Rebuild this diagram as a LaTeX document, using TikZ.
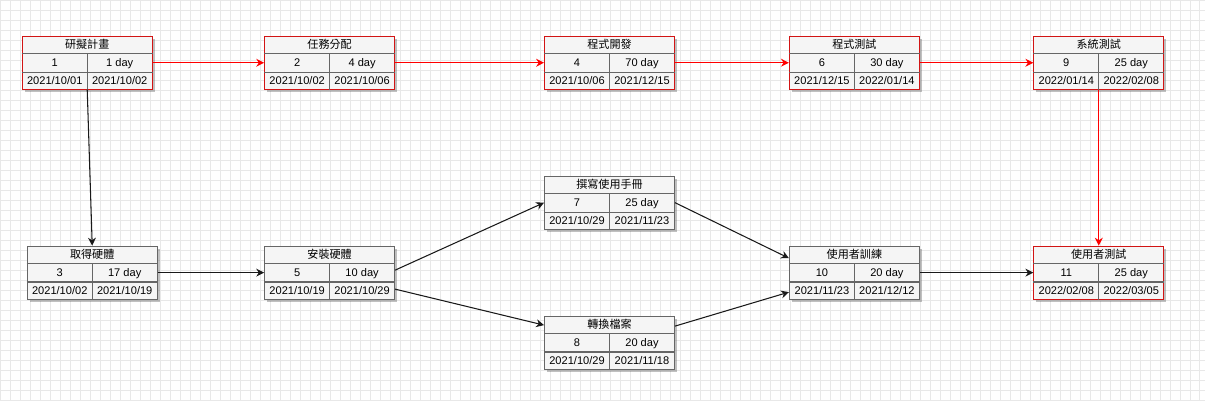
\documentclass[tikz,border=0pt]{standalone}
\usepackage{fontspec}
\setmainfont{Liberation Sans}
\newfontfamily\cjk{Noto Sans CJK TC}
\usetikzlibrary{shadows, arrows.meta, positioning}

\definecolor{cellfill}{RGB}{245,245,245}
\definecolor{cellline}{RGB}{102,102,102}
\definecolor{critline}{RGB}{210,20,20}
\definecolor{gridline}{RGB}{232,232,232}

\tikzset{
    task/.style={draw=cellline, fill=cellfill, line width=0.6pt,
        minimum width=2.6cm, minimum height=1.06cm, inner sep=0pt,
        drop shadow={shadow xshift=0.05cm, shadow yshift=-0.05cm, opacity=0.35, fill=black!70}},
    crit/.style={draw=critline},
    cell/.style={font=\fontsize{6.3}{7}\selectfont, inner sep=0pt, text height=4.6pt, text depth=0pt},
    link/.style={line width=0.6pt, black!90, -{Stealth[length=4.5pt, width=4.5pt]}},
    critlink/.style={line width=0.7pt, red, -{Stealth[length=4.5pt, width=4.5pt]}}
}

% name, position, extra style, title, id, duration, start, end
\newcommand{\taskbox}[8]{%
    \node[task, #3] (#1) at #2 {};
    \draw[cellline, line width=0.6pt] ([yshift=-0.353cm]#1.north west) -- ([yshift=-0.353cm]#1.north east);
    \draw[cellline, line width=0.6pt] ([yshift=0.353cm]#1.south west) -- ([yshift=0.353cm]#1.south east);
    \draw[cellline, line width=0.6pt] ([yshift=-0.353cm]#1.north) -- (#1.south);
    \node[cell] (#1-t) at ([yshift=-0.177cm]#1.north) {\cjk #4};
    \node[cell] (#1-n) at ([xshift=-0.65cm]#1.center) {#5};
    \node[cell] (#1-d) at ([xshift=0.65cm]#1.center) {#6};
    \node[cell] (#1-s) at ([xshift=-0.65cm, yshift=0.177cm]#1.south) {#7};
    \node[cell] (#1-e) at ([xshift=0.65cm, yshift=0.177cm]#1.south) {#8};
}

\begin{document}
\begin{tikzpicture}[x=0.02cm, y=-0.02cm]
    % background grid
    \fill[white] (0,0) rectangle (1205,401);
    \foreach \gx in {0,10,...,1200}
        \draw[gridline, line width=0.3pt] (\gx,0) -- (\gx,401);
    \foreach \gy in {0,10,...,400}
        \draw[gridline, line width=0.3pt] (0,\gy) -- (1205,\gy);
    \useasboundingbox (0,0) rectangle (1205,401);

    \taskbox{t1}{(87,62.5)}{crit}{研擬計畫}{1}{1 day}{2021/10/01}{2021/10/02}
    \taskbox{t2}{(329.5,62.5)}{crit}{任務分配}{2}{4 day}{2021/10/02}{2021/10/06}
    \taskbox{t4}{(609.5,62.5)}{crit}{程式開發}{4}{70 day}{2021/10/06}{2021/12/15}
    \taskbox{t6}{(854.5,62.5)}{crit}{程式測試}{6}{30 day}{2021/12/15}{2022/01/14}
    \taskbox{t9}{(1099,62.5)}{crit}{系統測試}{9}{25 day}{2022/01/14}{2022/02/08}

    \taskbox{t3}{(92,272.5)}{}{取得硬體}{3}{17 day}{2021/10/02}{2021/10/19}
    \taskbox{t5}{(329.5,272.5)}{}{安裝硬體}{5}{10 day}{2021/10/19}{2021/10/29}
    \taskbox{t7}{(609.5,202.5)}{}{撰寫使用手冊}{7}{25 day}{2021/10/29}{2021/11/23}
    \taskbox{t8}{(609.5,342.5)}{}{轉換檔案}{8}{20 day}{2021/10/29}{2021/11/18}
    \taskbox{t10}{(854.5,272.5)}{}{使用者訓練}{10}{20 day}{2021/11/23}{2021/12/12}
    \taskbox{t11}{(1099,272.5)}{crit}{使用者測試}{11}{25 day}{2022/02/08}{2022/03/05}

    % critical path
    \draw[critlink] (t1.east) -- (t2.west);
    \draw[critlink] (t2.east) -- (t4.west);
    \draw[critlink] (t4.east) -- (t6.west);
    \draw[critlink] (t6.east) -- (t9.west);
    \draw[critlink] (t9.south) -- (t11.north);

    % other links
    \draw[link] (t1.south) -- (t3.north);
    \draw[link] (t3.east) -- (t5.west);
    \draw[link] ([yshift=0.05cm]t5.east) -- (t7.west);
    \draw[link] ([yshift=-0.33cm]t5.east) -- ([yshift=0.35cm]t8.west);
    \draw[link] (t7.east) -- ([yshift=0.29cm]t10.west);
    \draw[link] ([yshift=0.33cm]t8.east) -- ([yshift=-0.39cm]t10.west);
    \draw[link] (t10.east) -- (t11.west);
\end{tikzpicture}
\end{document}
